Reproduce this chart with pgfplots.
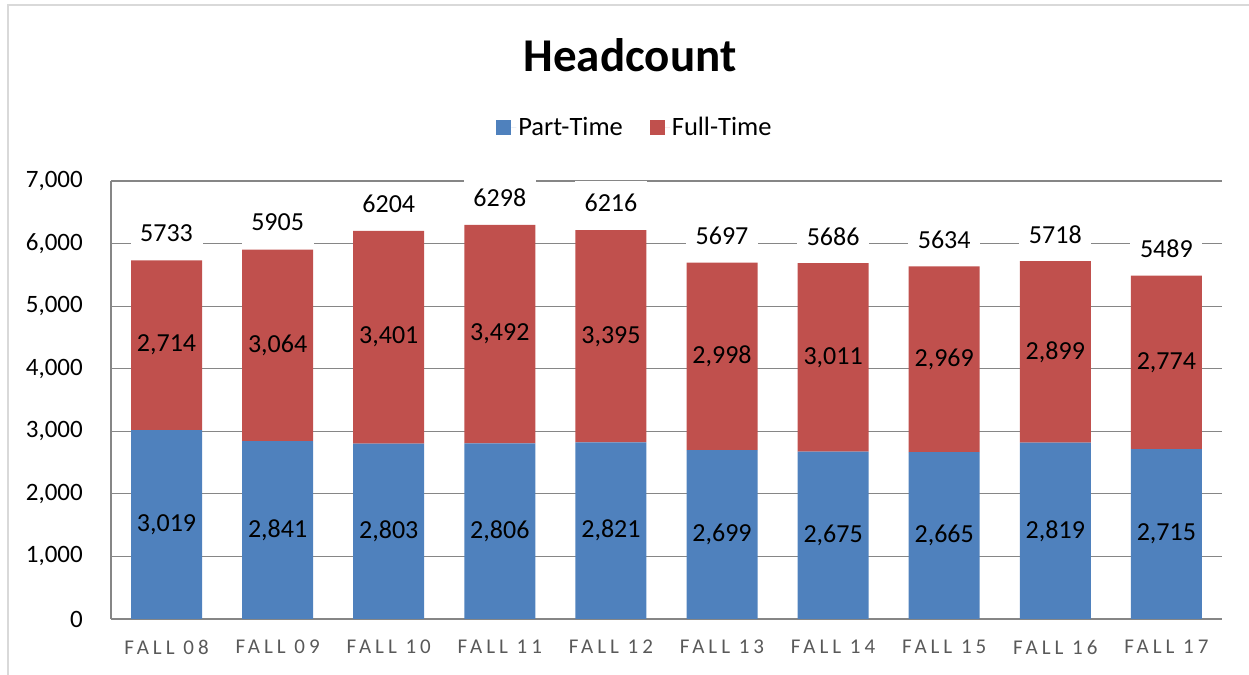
\documentclass[border=0pt]{standalone}
\usepackage{fontspec}
\setmainfont{Carlito}
\newfontfamily\spacedfont[LetterSpace=19]{Carlito}
\usepackage{pgfplots}
\usepackage{pgfplotstable}
\pgfplotsset{compat=1.18}
\definecolor{ptblue}{RGB}{79,129,189}
\definecolor{ftred}{RGB}{192,80,77}
\definecolor{gridgray}{RGB}{134,134,134}
\definecolor{catgray}{RGB}{89,89,89}
\pgfplotstableread{
x pt   ft   total
0 3019 2714 5733
1 2841 3064 5905
2 2803 3401 6204
3 2806 3492 6298
4 2821 3395 6216
5 2699 2998 5697
6 2675 3011 5686
7 2665 2969 5634
8 2819 2899 5718
9 2715 2774 5489
}\headcount
\pgfplotsset{
  chartgeom/.style={
    at={(111bp,56bp)}, anchor=south west,
    scale only axis, width=1111bp, height=438bp,
    xmin=-0.5, xmax=9.5, ymin=0, ymax=7000,
  }
}
\begin{document}
\begin{tikzpicture}
\path[use as bounding box] (0,0) rectangle (1249bp,675bp);
\draw[color=black!15, line width=1.2bp] (8bp,0bp) -- (8bp,670bp) -- (1249bp,670bp);
\node[anchor=base, font=\fontsize{47bp}{56bp}\selectfont\bfseries] at (630bp,603bp) {Headcount};
\begin{axis}[
  chartgeom,
  ybar stacked, bar width=71bp,
  xtick={0,...,9},
  xticklabels={FALL 08,FALL 09,FALL 10,FALL 11,FALL 12,FALL 13,FALL 14,FALL 15,FALL 16,FALL 17},
  ytick={0,1000,...,7000},
  scaled y ticks=false,
  /pgf/number format/1000 sep={,},
  /pgf/number format/assume math mode=true,
  ymajorgrids,
  grid style={color=gridgray, line width=1.2bp},
  axis x line*=bottom, axis y line*=left,
  axis line style={color=gridgray, line width=1.2bp},
  major tick length=0pt,
  tick style={draw=none},
  xticklabel style={anchor=center, yshift=-28bp, text=catgray, inner sep=0pt, font=\spacedfont\fontsize{21bp}{25bp}\selectfont},
  yticklabel style={anchor=east, xshift=-28bp, inner sep=0pt, font=\fontsize{25bp}{30bp}\selectfont},
  legend style={at={(axis description cs:0.4716,1.123)}, anchor=center, draw=none, fill=none,
    legend columns=2, font=\fontsize{26.5bp}{31bp}\selectfont,
    /tikz/every even column/.append style={column sep=25bp}},
  legend image code/.code={\fill[#1] (0bp,-7.5bp) rectangle (15bp,7.5bp); \path (15bp,0bp) -- (20bp,0bp);},
]
\addplot[fill=ptblue, draw=none] table[x=x, y=pt] {\headcount};
\addplot[fill=ftred, draw=none] table[x=x, y=ft] {\headcount};
\legend{Part-Time,Full-Time}
\end{axis}
\begin{axis}[
  chartgeom,
  hide axis,
  /pgf/number format/assume math mode=true,
  nodes near coords,
  every node near coord/.append style={font=\fontsize{26bp}{31bp}\selectfont, text=black, anchor=center},
]
\addplot[draw=none, mark=none, point meta=explicit,
  /pgf/number format/1000 sep={,}]
  table[x=x, y expr=\thisrow{pt}/2, meta=pt] {\headcount};
\addplot[draw=none, mark=none, point meta=explicit,
  /pgf/number format/1000 sep={,}]
  table[x=x, y expr=\thisrow{pt}+\thisrow{ft}/2, meta=ft] {\headcount};
\addplot[draw=none, mark=none, point meta=y,
  /pgf/number format/1000 sep={},
  every node near coord/.append style={yshift=27bp, fill=white, minimum width=72bp, minimum height=44bp}]
  table[x=x, y=total] {\headcount};
\end{axis}
\end{tikzpicture}
\end{document}
